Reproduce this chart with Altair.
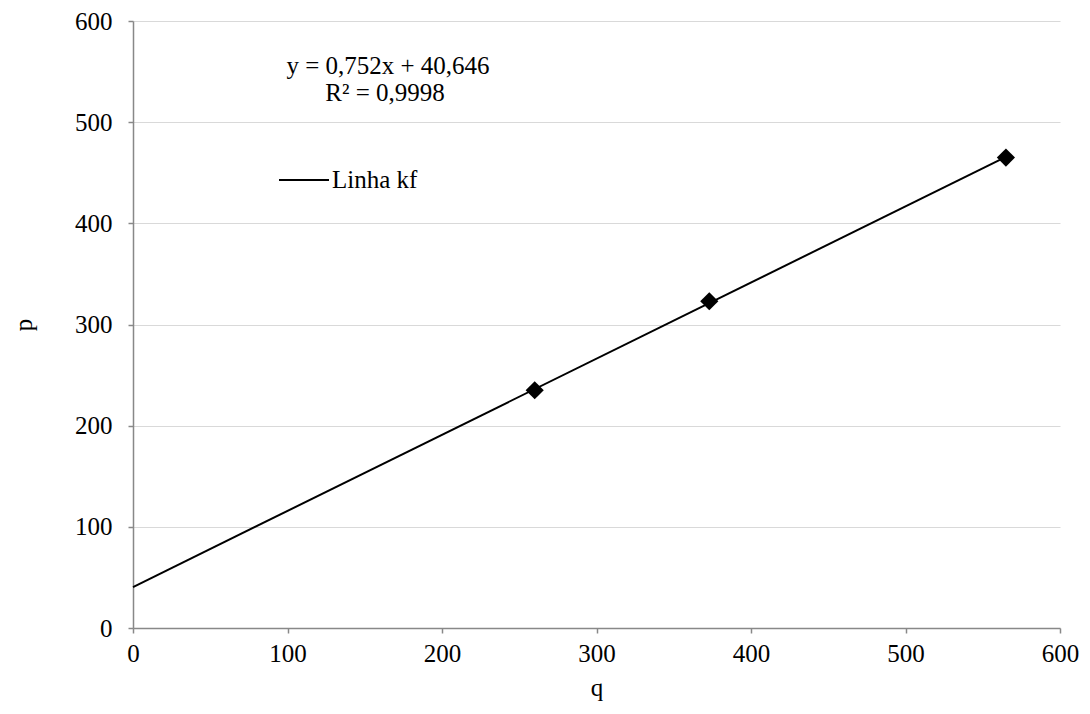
import altair as alt
import pandas as pd

q_vals = [260, 373, 565]
p_vals = [235, 323, 465]
series_name = ["Linha kf", "Linha kf", "Linha kf"]
eq_lines = ["y = 0,752x + 40,646", "R² = 0,9998"]
x_ticks = [0, 100, 200, 300, 400, 500, 600]
y_ticks = [0, 100, 200, 300, 400, 500, 600]

df = pd.DataFrame({"q": q_vals, "p": p_vals, "s": series_name})
FONT = "Times New Roman, Liberation Serif, serif"
FS = 25

base = alt.Chart(df)

x_enc = alt.X("q:Q", title="q", scale=alt.Scale(domain=[0, 600], nice=False),
              axis=alt.Axis(values=x_ticks, grid=False, tickSize=5, labelPadding=8,
                            titlePadding=9, labelFlush=False))
y_enc = alt.Y("p:Q", title="p", scale=alt.Scale(domain=[0, 600], nice=False),
              axis=alt.Axis(values=y_ticks, grid=True, tickSize=5, labelPadding=16,
                            titlePadding=38, labelFlush=False))

line = base.transform_regression("q", "p", extent=[0, 565]).mark_line(
    color="black", strokeWidth=2
).encode(
    x=x_enc, y=y_enc,
)

legend_line = base.mark_line(strokeWidth=0).encode(
    x=x_enc, y=y_enc,
    stroke=alt.Stroke("s:N", scale=alt.Scale(range=["black"]),
                      legend=alt.Legend(title=None, orient="none", legendX=145, legendY=133,
                                        symbolType="stroke", symbolSize=2500,
                                        symbolStrokeWidth=2, labelFont=FONT,
                                        labelFontSize=FS, labelColor="black",
                                        labelOffset=2)),
)

pts = base.mark_point(shape="diamond", filled=True, color="black", size=330, opacity=1).encode(
    x=x_enc, y=y_enc
)

eq1 = alt.Chart(pd.DataFrame({"t": [eq_lines[0]]})).mark_text(
    font=FONT, fontSize=FS, color="black", align="center", baseline="middle"
).encode(x=alt.value(255), y=alt.value(45), text="t:N")
eq2 = alt.Chart(pd.DataFrame({"t": [eq_lines[1]]})).mark_text(
    font=FONT, fontSize=FS, color="black", align="center", baseline="middle"
).encode(x=alt.value(252), y=alt.value(72), text="t:N")

chart = alt.layer(line, legend_line, pts, eq1, eq2).properties(
    width=927, height=607,
    autosize=alt.AutoSizeParams(type="none"),
    padding={"left": 125, "top": 13, "right": 22, "bottom": 86},
).configure_view(stroke=None).configure_axis(
    labelFont=FONT, titleFont=FONT, labelFontSize=FS, titleFontSize=FS,
    labelColor="black", titleColor="black", titleFontWeight="normal",
    domainColor="#888888", tickColor="#888888", gridColor="#d9d9d9",
    domainWidth=1.5, tickWidth=1.5,
).configure_axisY(titleAngle=-90)

chart.save("out.html", embed_options={"renderer": "svg", "actions": False})
